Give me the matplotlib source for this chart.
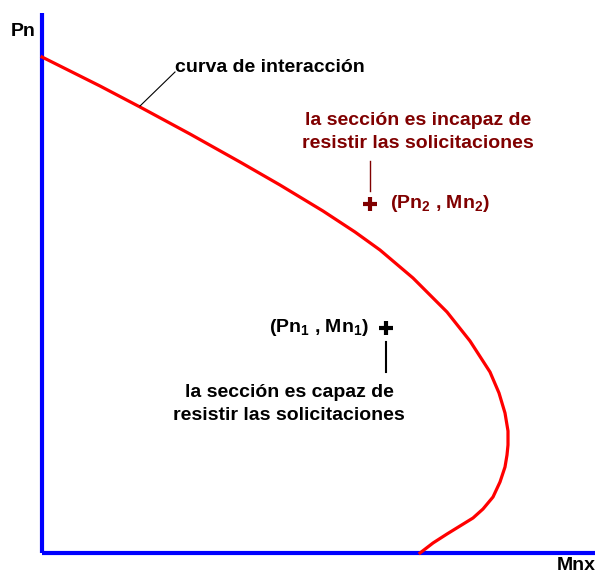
import numpy as np
import matplotlib.pyplot as plt

# interaction curve (Mnx, Pn), origin at the axes corner
mnx = [0, 58, 98, 148, 198, 238, 281, 313, 338, 371, 405, 428, 448, 457, 463, 466, 466,
       465, 463, 458, 451, 441, 431, 418, 405, 391, 378]
pn = [496, 467, 446, 419, 391, 368, 342, 321, 303, 275, 241, 212, 181, 160, 140, 122, 108,
      98, 86, 71, 56, 44, 35, 27, 19, 10, 0]

pt1 = (344, 225)   # (Mn1, Pn1) inside
pt2 = (328, 349)   # (Mn2, Pn2) outside

dark_red = '#800000'
plt.rcParams['font.family'] = ['Liberation Sans', 'DejaVu Sans']
plt.rcParams['font.weight'] = 'bold'
plt.rcParams['mathtext.fontset'] = 'custom'
plt.rcParams['mathtext.rm'] = 'Liberation Sans:bold'
plt.rcParams['mathtext.it'] = 'Liberation Sans:bold'
fs = 14

fig = plt.figure(figsize=(5.95, 5.75), dpi=100)
ax = fig.add_axes([0, 0, 1, 1])
ax.set_xlim(-42, 553)
ax.set_ylim(-22, 553)
ax.axis('off')

# axes
ax.plot([0, 0], [0, 540], color='#0000ff', lw=3, solid_capstyle='butt')
ax.plot([0, 553], [0, 0], color='#0000ff', lw=3, solid_capstyle='butt')
ax.text(-31, 521, 'Pn', fontsize=fs, va='center', ha='left')
ax.text(515, -13, 'Mnx', fontsize=fs, va='center', ha='left')

# curve
ax.plot(mnx, pn, color='#ff0000', lw=2.3, solid_joinstyle='round')
ax.plot([98, 133], [447, 481], color='black', lw=0.8)
ax.text(133, 486, 'curva de interacción', fontsize=fs, va='center', ha='left')

# point 2
ax.plot(*pt2, marker='+', ms=10, mew=3, color=dark_red)
ax.plot([pt2[0], pt2[0]], [pt2[1] + 13, pt2[1] + 43], color=dark_red, lw=1)
ax.text(pt2[0] + 20, pt2[1], r'(Pn$_{2}$ , Mn$_{2}$)', fontsize=fs, va='center', ha='left', color=dark_red)
ax.text(376, 421, 'la sección es incapaz de\nresistir las solicitaciones', fontsize=fs,
        va='center', ha='center', color=dark_red, linespacing=1.4)

# point 1
ax.plot(*pt1, marker='+', ms=10, mew=3, color='black')
ax.plot([pt1[0], pt1[0]], [pt1[1] - 14, pt1[1] - 44], color='black', lw=1.5)
ax.text(pt1[0] - 17, pt1[1], r'(Pn$_{1}$ , Mn$_{1}$)', fontsize=fs, va='center', ha='right')
ax.text(247, 149, 'la sección es capaz de\nresistir las solicitaciones', fontsize=fs,
        va='center', ha='center', linespacing=1.4)

fig.savefig('out.png', dpi=100)
